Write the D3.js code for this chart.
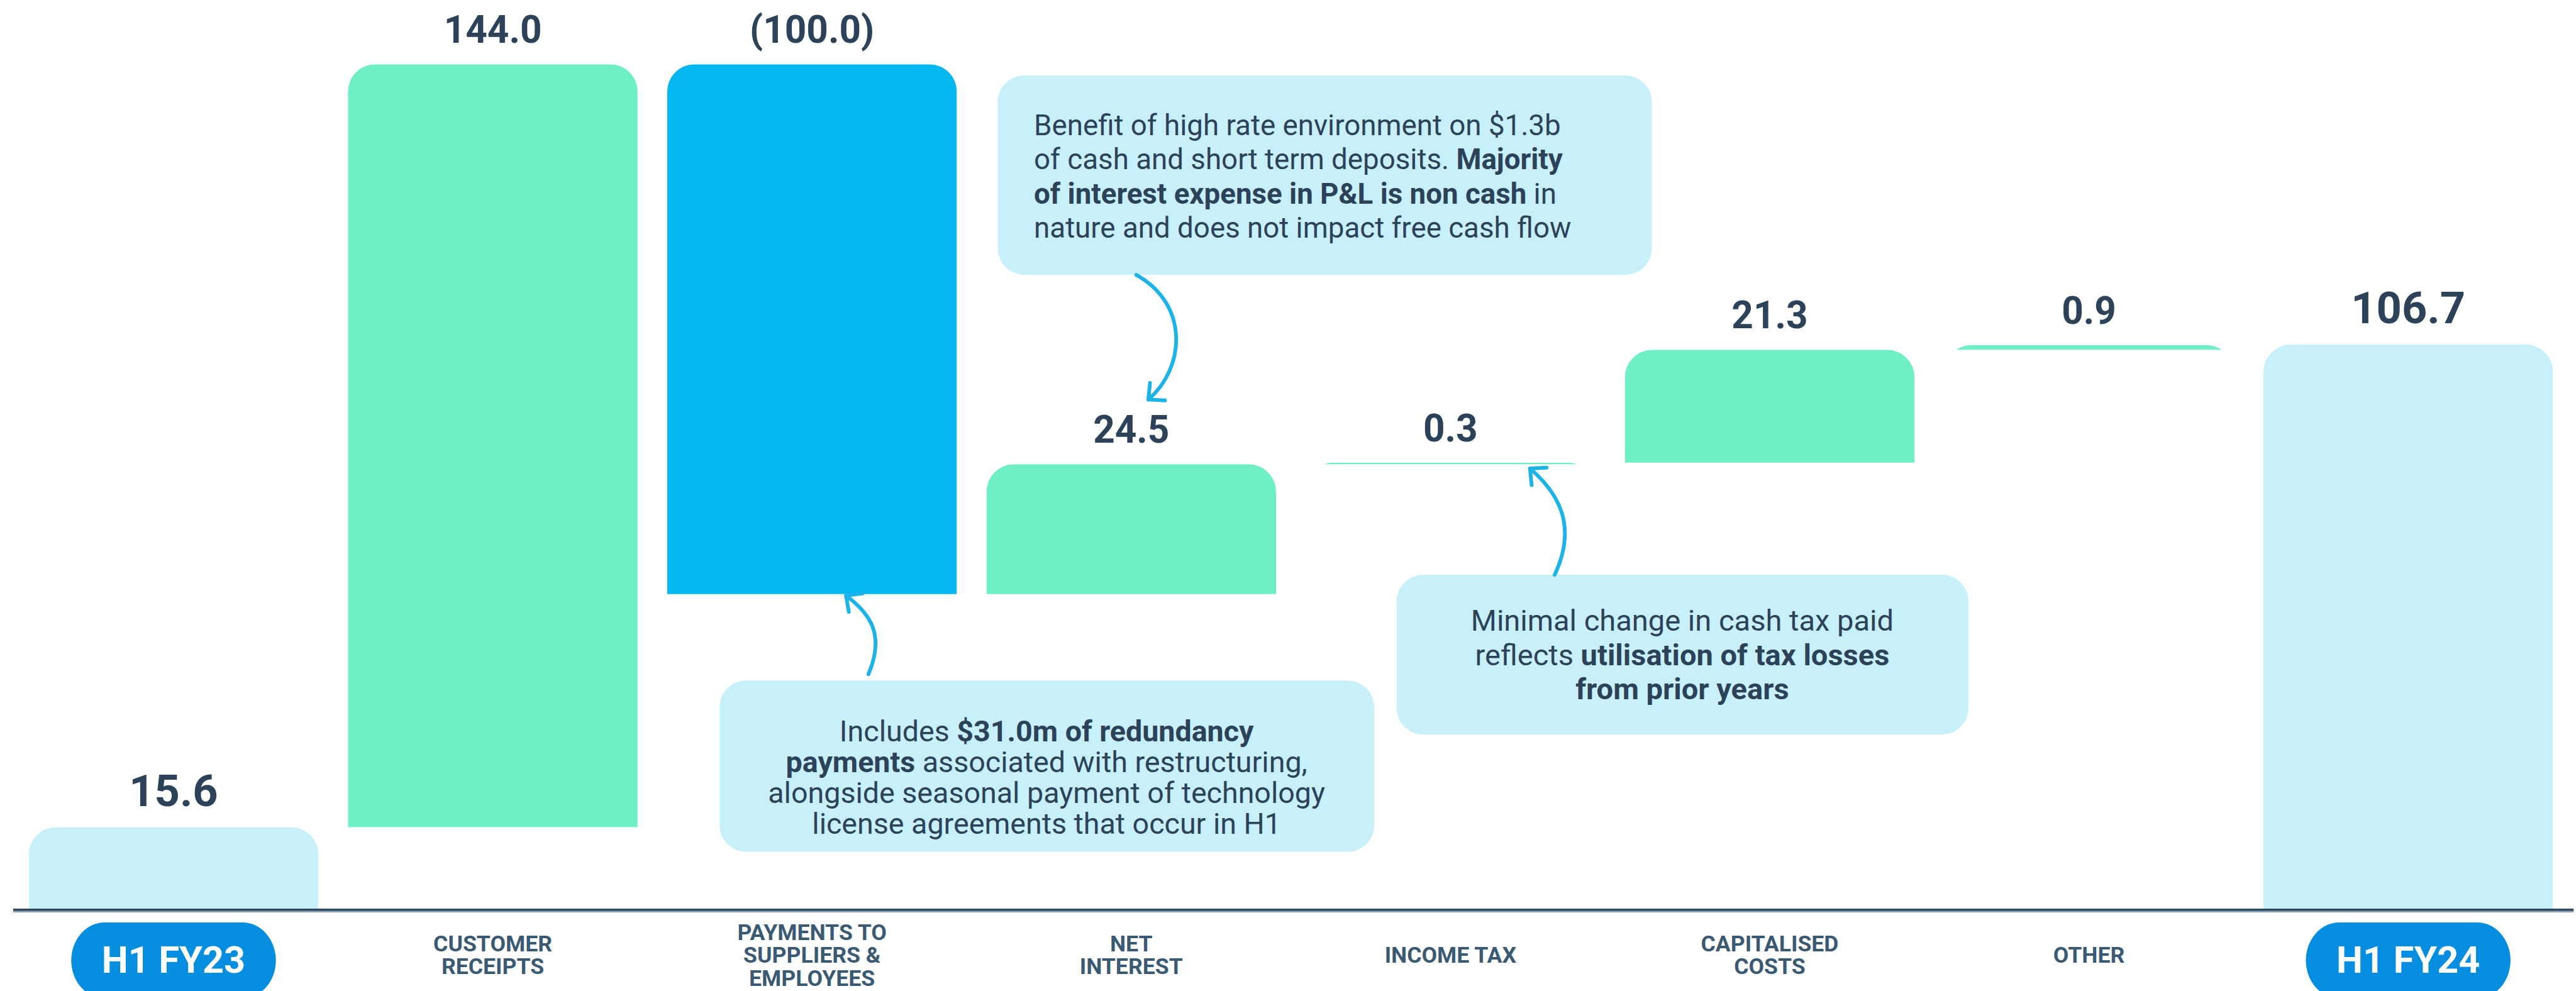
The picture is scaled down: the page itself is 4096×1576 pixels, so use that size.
<!DOCTYPE html>
<html>
<head>
<meta charset="utf-8">
<script src="https://cdn.jsdelivr.net/npm/d3@7"></script>
<style>
  html, body { margin: 0; padding: 0; background: #ffffff; overflow: hidden; }
  svg { display: block; }
</style>
</head>
<body>
<svg id="chart"></svg>
<script>
// ---------------- DATA ----------------
const categories = ["H1 FY23", "CUSTOMER RECEIPTS", "PAYMENTS TO SUPPLIERS & EMPLOYEES", "NET INTEREST", "INCOME TAX", "CAPITALISED COSTS", "OTHER", "H1 FY24"];
const categoryLines = [["H1 FY23"], ["CUSTOMER", "RECEIPTS"], ["PAYMENTS TO", "SUPPLIERS &", "EMPLOYEES"], ["NET", "INTEREST"], ["INCOME TAX"], ["CAPITALISED", "COSTS"], ["OTHER"], ["H1 FY24"]];
const values = [15.6, 144.0, -100.0, 24.5, 0.3, 21.3, 0.9, 106.7];
const barTypes = ["total", "delta", "delta", "delta", "delta", "delta", "delta", "total"];
const valueLabels = ["15.6", "144.0", "(100.0)", "24.5", "0.3", "21.3", "0.9", "106.7"];

const calloutInterest = [
  [["Benefit of high rate environment on $1.3b", false]],
  [["of cash and short term deposits. ", false], ["Majority", true]],
  [["of interest expense in P&L is non cash", true], [" in", false]],
  [["nature and does not impact free cash flow", false]]
];
const calloutPayments = [
  [["Includes ", false], ["$31.0m of redundancy", true]],
  [["payments", true], [" associated with restructuring,", false]],
  [["alongside seasonal payment of technology", false]],
  [["license agreements that occur in H1", false]]
];
const calloutTax = [
  [["Minimal change in cash tax paid", false]],
  [["reflects ", false], ["utilisation of tax losses", true]],
  [["from prior years", true]]
];

// ---------------- LAYOUT ----------------
const W = 4482, H = 1724;
const svg = d3.select("#chart")
  .attr("width", 4096).attr("height", 1576)
  .attr("viewBox", `0 0 ${W} ${H}`);

const C = {
  total: "#C7F0FB", pos: "#6FEFC4", neg: "#02B8EF",
  text: "#2C4259", axisText: "#3A5A73", pill: "#058DDF",
  axis: "#2D4861", axis2: "#8093A5", arrow: "#1CB3E8", box: "#C7F0FB"
};

// running waterfall
let run = 0;
const bars = values.map((v, i) => {
  let y0, y1;
  if (barTypes[i] === "total") { y0 = 0; y1 = v; run = v; }
  else { y0 = run; y1 = run + v; run = y1; }
  return { cat: categories[i], v, type: barTypes[i], lo: Math.min(y0, y1), hi: Math.max(y0, y1), label: valueLabels[i], lines: categoryLines[i] };
});
const maxVal = d3.max(bars, d => d.hi);

const x = d3.scaleBand().domain(categories).range([50, 4442]).paddingInner(0.0927).paddingOuter(0);
const y = d3.scaleLinear().domain([0, maxVal]).range([1583, 111.5]);
const bw = x.bandwidth();
const R = 48;

const defs = svg.append("defs");
bars.forEach((d, i) => {
  defs.append("clipPath").attr("id", "clip" + i)
    .append("rect")
    .attr("x", x(d.cat)).attr("y", y(d.hi))
    .attr("width", bw).attr("height", Math.max(0.5, y(d.lo) - y(d.hi)));
});

// bars
const gBars = svg.append("g");
bars.forEach((d, i) => {
  const h = y(d.lo) - y(d.hi);
  gBars.append("rect")
    .attr("x", x(d.cat)).attr("y", y(d.hi))
    .attr("width", bw).attr("height", h + R * 2)
    .attr("rx", R).attr("ry", R)
    .attr("fill", d.type === "total" ? C.total : (d.v >= 0 ? C.pos : C.neg))
    .attr("clip-path", `url(#clip${i})`);
});

// value labels
svg.append("g").selectAll("text").data(bars).join("text")
  .attr("x", d => x(d.cat) + bw / 2)
  .attr("y", d => y(d.hi) - 37)
  .attr("text-anchor", "middle")
  .attr("font-family", "Roboto, sans-serif")
  .attr("font-weight", 700)
  .attr("font-size", d => d.type === "total" ? 77 : 66)
  .attr("fill", C.text)
  .text(d => d.label);

// baseline
svg.append("line").attr("x1", 23).attr("x2", 4478).attr("y1", 1583).attr("y2", 1583)
  .attr("stroke", C.axis).attr("stroke-width", 4);
svg.append("line").attr("x1", 23).attr("x2", 4478).attr("y1", 1586.5).attr("y2", 1586.5)
  .attr("stroke", C.axis2).attr("stroke-width", 2);

// category labels / pills
const gCat = svg.append("g");
bars.forEach(d => {
  const cx = x(d.cat) + bw / 2;
  if (d.type === "total") {
    gCat.append("rect").attr("x", cx - 178).attr("y", 1605).attr("width", 356).attr("height", 132)
      .attr("rx", 58).attr("ry", 66).attr("fill", C.pill);
    gCat.append("text").attr("x", cx).attr("y", 1693).attr("text-anchor", "middle")
      .attr("font-family", "Roboto, sans-serif").attr("font-weight", 700).attr("font-size", 65)
      .attr("fill", "#ffffff").text(d.cat);
  } else {
    const n = d.lines.length;
    const t = gCat.append("text").attr("text-anchor", "middle")
      .attr("font-family", "Roboto, sans-serif").attr("font-weight", 700).attr("font-size", 39)
      .attr("fill", C.axisText);
    d.lines.forEach((ln, k) => {
      t.append("tspan").attr("x", cx).attr("y", 1662 + 13.5 - (n - 1) * 39.5 / 2 + k * 39.5).text(ln);
    });
  }
});

// callouts
function callout(box, lines, opts) {
  const g = svg.append("g");
  g.append("rect").attr("x", box[0]).attr("y", box[1]).attr("width", box[2]).attr("height", box[3])
    .attr("rx", 46).attr("ry", 46).attr("fill", C.box);
  const t = g.append("text")
    .attr("font-family", "Roboto, sans-serif").attr("font-size", opts.size)
    .attr("fill", C.text).attr("text-anchor", opts.anchor)
    .style("white-space", "pre");
  lines.forEach((ln, k) => {
    ln.forEach((seg, j) => {
      const ts = t.append("tspan").text(seg[0]).attr("font-weight", seg[1] ? 700 : 400);
      if (j === 0) ts.attr("x", opts.x).attr("y", opts.y0 + k * opts.lh);
    });
  });
}
callout([1736, 131, 1138, 347], calloutInterest, { x: 1799, y0: 235, lh: 59.5, size: 50, anchor: "start" });
callout([1252, 1184, 1139, 298], calloutPayments, { x: 1821, y0: 1290, lh: 53.5, size: 51, anchor: "middle" });
callout([2430, 1000, 995, 278], calloutTax, { x: 2927, y0: 1097, lh: 60, size: 51.5, anchor: "middle" });

// arrows
defs.append("marker").attr("id", "arrowhead")
  .attr("markerUnits", "userSpaceOnUse").attr("markerWidth", 70).attr("markerHeight", 70)
  .attr("refX", 0).attr("refY", 0).attr("viewBox", "-35 -35 70 70").attr("orient", "auto")
  .append("path").attr("d", "M-21,-20 L0,0 L-21,20").attr("fill", "none")
  .attr("stroke", C.arrow).attr("stroke-width", 6.5).attr("stroke-linecap", "round").attr("stroke-linejoin", "round");

const arrows = [
  "M1977,478 C2070,530 2062,640 1998,695",
  "M1511,1173 C1540,1105 1515,1068 1472,1036",
  "M2705,1000 C2745,915 2712,858 2662,815"
];
svg.append("g").selectAll("path").data(arrows).join("path")
  .attr("d", d => d).attr("fill", "none").attr("stroke", C.arrow).attr("stroke-width", 6.5)
  .attr("stroke-linecap", "round").attr("marker-end", "url(#arrowhead)");
</script>
</body>
</html>
